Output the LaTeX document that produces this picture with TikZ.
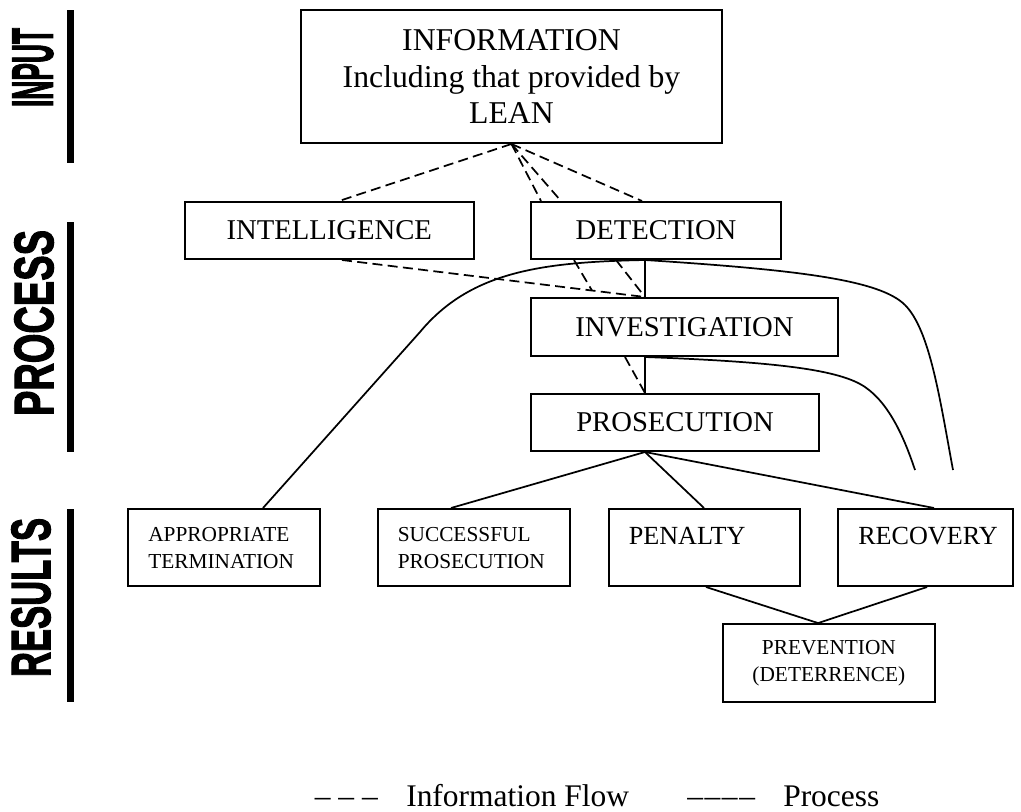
\documentclass[tikz,border=0pt]{standalone}
\usepackage{fontspec}
\usepackage{graphicx}
\setmainfont{Liberation Serif}
\newfontface\bandfont[FakeBold=2.5]{Liberation Sans Bold}
\usetikzlibrary{calc}
\def\u{0.75pt}
\begin{document}
\begin{tikzpicture}[x=0.75pt,y=-0.75pt,
  box/.style={draw, rectangle, line width=1.5pt, inner sep=0pt, align=center},
  bigtext/.style={font=\fontsize{21.5pt}{26pt}\selectfont},
  midtext/.style={font=\fontsize{19.6pt}{24pt}\selectfont},
  smalltext/.style={font=\fontsize{16pt}{20pt}\selectfont},
  legendtext/.style={font=\fontsize{23.6pt}{28pt}\selectfont, inner sep=0pt},
  infoflow/.style={line width=1.3pt, dash pattern=on 7.5pt off 4pt},
  procflow/.style={line width=1.3pt},
  band/.style={line width=5.25pt},
  bandlabel/.style={rotate=90, inner sep=0pt}]
\useasboundingbox (0,0) rectangle (1021,811);

% ---- section labels on the left ----
\node[bandlabel] (lblinput) at (33,67.5) {\resizebox{59.25pt}{30pt}{\bandfont INPUT}};
\node[bandlabel] (lblprocess) at (34,323) {\resizebox{139.5pt}{29pt}{\bandfont PROCESS}};
\node[bandlabel] (lblresults) at (31,597.5) {\resizebox{119.25pt}{29pt}{\bandfont RESULTS}};
\draw[band] (70.5,10) -- (70.5,163);
\draw[band] (70.5,222) -- (70.5,452);
\draw[band] (70.5,509) -- (70.5,702);

% ---- boxes ----
\node[box, minimum width=421*\u, minimum height=133*\u,
      font=\fontsize{23.8pt}{27.5pt}\selectfont] (info) at (511.5,76.5)
      {INFORMATION\\Including that provided by\\LEAN};
\node[box, bigtext, minimum width=288.6*\u, minimum height=57*\u] (intel) at (329.3,230.5) {INTELLIGENCE};
\node[box, bigtext, minimum width=250*\u, minimum height=57*\u] (det) at (656,230.5) {DETECTION};
\node[box, bigtext, minimum width=307*\u, minimum height=58*\u] (invest) at (684.5,327) {INVESTIGATION};
\node[box, bigtext, minimum width=288*\u, minimum height=57*\u] (pros) at (675,422.5) {PROSECUTION};

\node[box, minimum width=192*\u, minimum height=77*\u] (appr) at (224,547.5) {};
\node[box, minimum width=192.5*\u, minimum height=77*\u] (succ) at (473.75,547.5) {};
\node[box, minimum width=191.5*\u, minimum height=77*\u] (pen) at (704.25,547.5) {};
\node[box, minimum width=175*\u, minimum height=77*\u] (rec) at (925.5,547.5) {};
\node[box, smalltext, minimum width=212.3*\u, minimum height=77.7*\u] (prev) at (828.9,662.9)
      {PREVENTION\\(DETERRENCE)};

% texts of the result boxes
\node[smalltext, anchor=north west, inner sep=0pt, align=left] (apprtext)
      at ($(appr.north west)+(21,19)$) {APPROPRIATE\\TERMINATION};
\node[smalltext, anchor=north west, inner sep=0pt, align=left] (succtext)
      at ($(succ.north west)+(21,19)$) {SUCCESSFUL\\PROSECUTION};
\node[midtext, anchor=north west, inner sep=0pt] (pentext)
      at ($(pen.north west)+(21,19)$) {PENALTY};
\node[midtext, anchor=north west, inner sep=0pt] (rectext)
      at ($(rec.north west)+(21,19)$) {RECOVERY};

% ---- attachment points ----
\coordinate (detS) at ($(det.south west)+(115,0)$);
\coordinate (invN) at ($(invest.north west)+(115,0)$);
\coordinate (invS) at ($(invest.south west)+(115,0)$);
\coordinate (prosN) at ($(pros.north west)+(115,0)$);
\coordinate (prosS) at ($(pros.south west)+(115,0)$);
\coordinate (intelS) at ($(intel.south west)+(158,0)$);
\coordinate (meet) at ($(intelS)!0.825!(invN)$);
\coordinate (prevN) at ($(prev.north west)+(96.3,0)$);
\coordinate (endA) at (953,470);
\coordinate (endB) at (915,470);

% ---- information flow (dashed) ----
\draw[infoflow] (info.south) -- ($(intel.north west)+(155,0)$);
\draw[infoflow] (info.south) -- ($(det.north west)+(11,0)$);
\draw[infoflow] (info.south) -- ($(det.north west)+(31,0)$);
\draw[infoflow] (info.south) -- ($(det.north west)+(112,0)$);
\draw[infoflow] (intelS) -- (invN);
\draw[infoflow] ($(det.south west)+(44,0)$) -- (meet);
\draw[infoflow] ($(det.south west)+(86,0)$) -- (invN);
\draw[infoflow] ($(invest.south west)+(95,0)$) -- (prosN);

% ---- process (solid) ----
\draw[procflow] (detS) -- (invN);
\draw[procflow] (invS) -- (prosN);
\draw[procflow] (prosS) -- ($(succ.north west)+(74.5,0)$);
\draw[procflow] (prosS) -- ($(pen.north west)+(96.5,0)$);
\draw[procflow] (prosS) -- ($(rec.north west)+(97,0)$);
\draw[procflow] ($(pen.south west)+(98.5,0)$) -- (prevN);
\draw[procflow] ($(rec.south west)+(90,0)$) -- (prevN);
\draw[procflow] ($(appr.north west)+(136,0)$) -- (420,332)
      .. controls (470,272) and (540,262) .. (detS);
\draw[procflow] (detS) .. controls (800,270) and (880,280) .. (905,305)
      .. controls (930,330) and (940,400) .. (endA);
\draw[procflow] (invS) .. controls (780,362) and (840,370) .. (865,387)
      .. controls (890,404) and (905,440) .. (endB);

% ---- legend ----
\node[legendtext, anchor=base east] (legdash) at (378,806) {– – –};
\node[legendtext, anchor=base west] (leginfo) at (406,806) {Information Flow};
\node[legendtext, anchor=base west] (legline) at (687,806) {–\kern1.2pt–\kern1.2pt–\kern1.2pt–};
\node[legendtext, anchor=base west] (legproc) at (783,806) {Process};
\end{tikzpicture}
\end{document}
